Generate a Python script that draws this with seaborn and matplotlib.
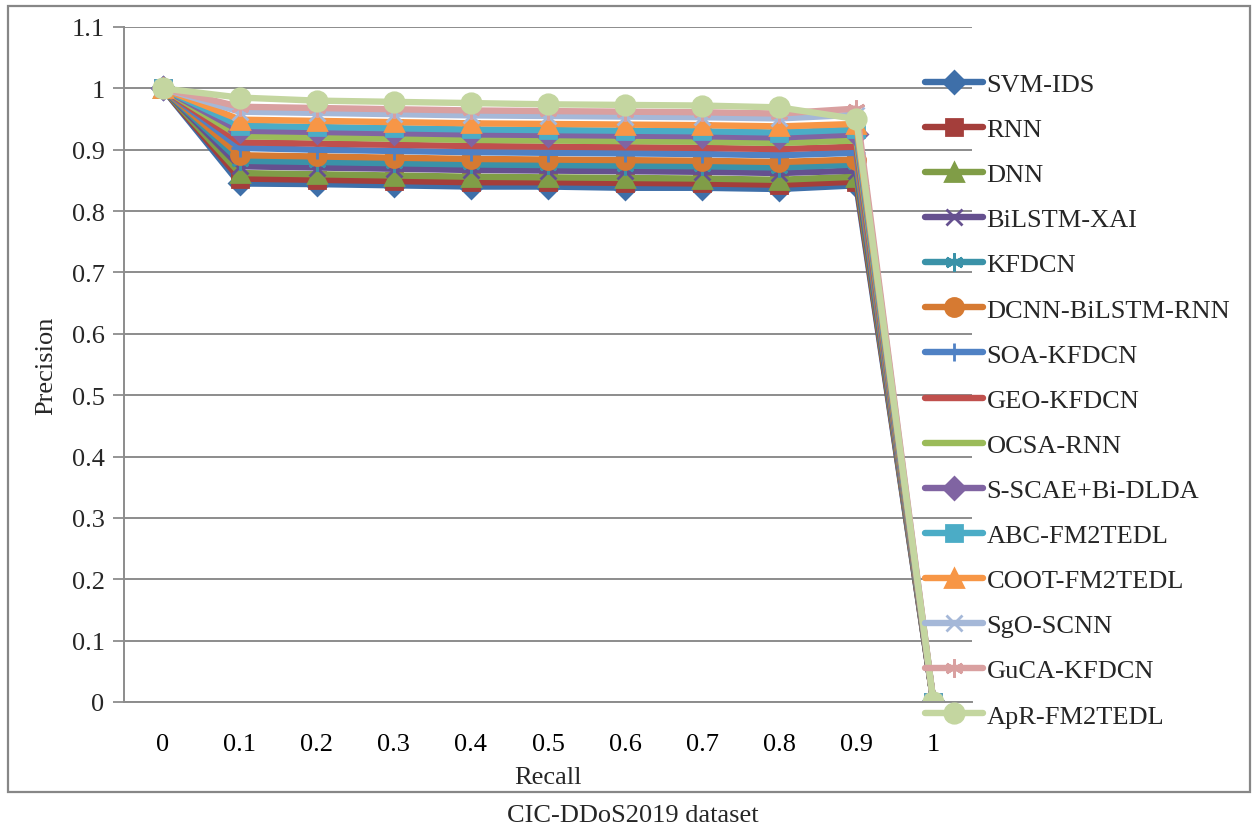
import matplotlib
matplotlib.use("Agg")
import matplotlib.pyplot as plt
import seaborn as sns
import numpy as np

recall_labels = ["0", "0.1", "0.2", "0.3", "0.4", "0.5", "0.6", "0.7", "0.8", "0.9", "1"]

svm_ids = [1, 0.845, 0.844, 0.842, 0.840, 0.840, 0.838, 0.838, 0.836, 0.842, 0]
rnn = [1, 0.853, 0.851, 0.849, 0.847, 0.847, 0.846, 0.845, 0.843, 0.848, 0]
dnn = [1, 0.862, 0.860, 0.858, 0.856, 0.855, 0.854, 0.853, 0.851, 0.856, 0]
bilstm_xai = [1, 0.873, 0.871, 0.869, 0.867, 0.866, 0.865, 0.864, 0.862, 0.866, 0]
kfdcn = [1, 0.882, 0.880, 0.878, 0.876, 0.875, 0.874, 0.873, 0.871, 0.876, 0]
dcnn_bilstm_rnn = [1, 0.891, 0.889, 0.887, 0.885, 0.884, 0.883, 0.882, 0.880, 0.884, 0]
soa_kfdcn = [1, 0.903, 0.900, 0.898, 0.896, 0.895, 0.894, 0.893, 0.891, 0.895, 0]
geo_kfdcn = [1, 0.912, 0.910, 0.908, 0.906, 0.905, 0.904, 0.903, 0.901, 0.905, 0]
ocsa_rnn = [1, 0.922, 0.920, 0.918, 0.916, 0.915, 0.914, 0.913, 0.911, 0.915, 0]
sscae = [1, 0.931, 0.929, 0.927, 0.925, 0.924, 0.923, 0.922, 0.920, 0.925, 0]
abc_fm2tedl = [1, 0.939, 0.937, 0.935, 0.933, 0.932, 0.931, 0.930, 0.928, 0.933, 0]
coot_fm2tedl = [1, 0.949, 0.947, 0.945, 0.943, 0.942, 0.941, 0.940, 0.938, 0.942, 0]
sgo_scnn = [1, 0.962, 0.960, 0.958, 0.956, 0.955, 0.954, 0.953, 0.951, 0.957, 0]
guca_kfdcn = [1, 0.970, 0.968, 0.966, 0.964, 0.963, 0.962, 0.961, 0.959, 0.967, 0]
apr_fm2tedl = [1, 0.985, 0.980, 0.978, 0.976, 0.974, 0.973, 0.972, 0.969, 0.950, 0]

series_names = ["SVM-IDS", "RNN", "DNN", "BiLSTM-XAI", "KFDCN", "DCNN-BiLSTM-RNN",
                "SOA-KFDCN", "GEO-KFDCN", "OCSA-RNN", "S-SCAE+Bi-DLDA", "ABC-FM2TEDL",
                "COOT-FM2TEDL", "SgO-SCNN", "GuCA-KFDCN", "ApR-FM2TEDL"]
series_values = [svm_ids, rnn, dnn, bilstm_xai, kfdcn, dcnn_bilstm_rnn, soa_kfdcn,
                 geo_kfdcn, ocsa_rnn, sscae, abc_fm2tedl, coot_fm2tedl, sgo_scnn,
                 guca_kfdcn, apr_fm2tedl]

colors = ["#3E6FA9", "#A43E3B", "#809D47", "#65508F", "#3A92A8", "#D67A32",
          "#4F81C4", "#C0504D", "#9BBB59", "#8064A2", "#4BACC6", "#F79646",
          "#A5B8D8", "#D9A0A0", "#C4D6A0"]
star = (6, 2, 0)
markers = ["D", "s", "^", "x", star, "o", "+", None, None, "D", "s", "^", "x", star, "o"]
msizes = [11, 11, 13, 11, 13, 13, 13, 0, 0, 11, 11, 13, 11, 13, 14]

sns.set_theme(style="white")
plt.rcParams["font.family"] = ["Liberation Serif", "DejaVu Serif"]

FS = 19

fig = plt.figure(figsize=(12.56, 8.28), dpi=100)
ax = fig.add_axes([124 / 1256, 1 - 703 / 828, (972 - 124) / 1256, (703 - 28) / 828])

x_idx = np.arange(len(recall_labels))
for name, vals, c, m, ms in zip(series_names, series_values, colors, markers, msizes):
    kw = dict(color=c, linewidth=4.6, label=name, ax=ax, solid_joinstyle="round",
              solid_capstyle="round")
    if m is not None:
        kw.update(marker=m, markersize=ms, markeredgecolor=c, markerfacecolor=c,
                  markeredgewidth=2.0)
    sns.lineplot(x=x_idx, y=vals, **kw)

ax.set_xlim(-0.5, len(recall_labels) - 0.5)
ax.set_ylim(0, 1.1)
ax.set_yticks(np.round(np.arange(0, 1.11, 0.1), 1))
ax.set_yticklabels(["0", "0.1", "0.2", "0.3", "0.4", "0.5", "0.6", "0.7", "0.8", "0.9", "1", "1.1"],
                   fontsize=FS)
ax.set_xticks(x_idx)
ax.set_xticklabels(recall_labels, fontsize=FS)
ax.set_xticks(np.arange(-0.5, len(recall_labels)), minor=True)
ax.tick_params(axis="x", which="major", length=0, pad=22, colors="black")
ax.tick_params(axis="x", which="minor", length=8, width=1.3, color="#8C8C8C", direction="out")
ax.tick_params(axis="y", which="major", length=8, width=1.3, color="#8C8C8C", direction="out",
               pad=6, left=True)
ax.yaxis.grid(True, color="#8C8C8C", linewidth=1.4)
ax.xaxis.grid(False)
ax.set_axisbelow(True)
for s in ["top", "right"]:
    ax.spines[s].set_visible(False)
for s in ["left", "bottom"]:
    ax.spines[s].set_color("#8C8C8C")
    ax.spines[s].set_linewidth(1.4)
ax.set_xlabel("Recall", fontsize=FS, labelpad=8)
ax.set_ylabel("Precision", fontsize=FS, labelpad=10)
ax.set_facecolor("white")

leg = ax.legend(loc="upper left", bbox_to_anchor=(914 / 1256, 1 - 63 / 828),
                bbox_transform=fig.transFigure, frameon=False, fontsize=FS,
                handlelength=2.2, handletextpad=0.15, labelspacing=0.82, borderaxespad=0)

frame = plt.Rectangle((8 / 1256, 1 - 793 / 828), (1250 - 8) / 1256, (793 - 7) / 828,
                      transform=fig.transFigure, fill=False, edgecolor="#878787",
                      linewidth=1.6)
fig.patches.append(frame)
fig.text(633 / 1256, 1 - 816 / 828, "CIC-DDoS2019 dataset", ha="center", va="center",
         fontsize=FS)

fig.savefig("out.png", dpi=100, facecolor="white")
